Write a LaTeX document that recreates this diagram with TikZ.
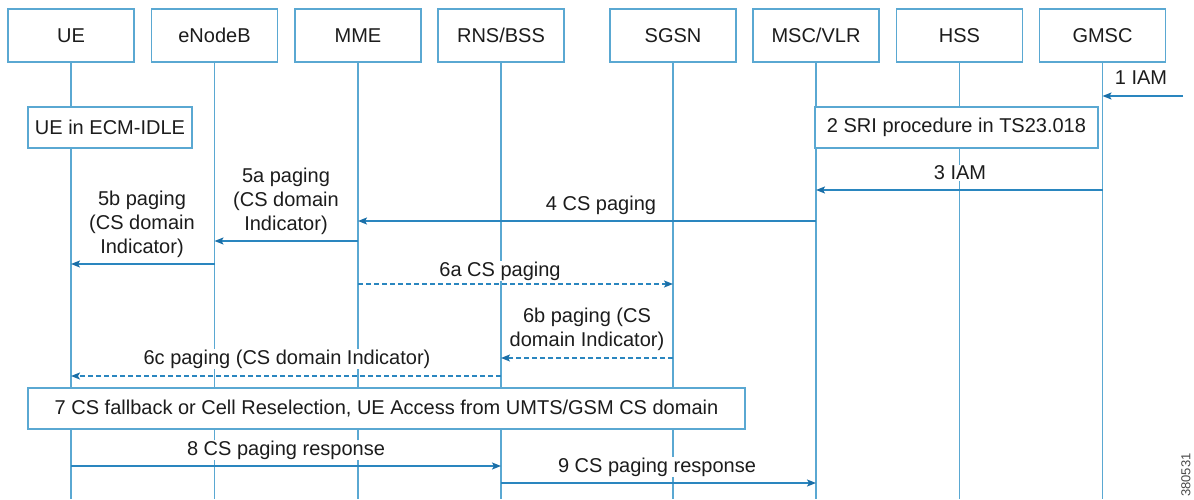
\documentclass[tikz,border=0pt]{standalone}
\usepackage{fontspec}
\setmainfont{Liberation Sans}
\usetikzlibrary{arrows.meta}
\definecolor{lifec}{HTML}{5AA8D2}
\definecolor{msgc}{HTML}{2A86BF}
\definecolor{tipc}{HTML}{1A6FA8}
\definecolor{txtc}{HTML}{1C1C1C}
\tikzset{
  hdr/.style={draw=lifec, line width=1.3pt, fill=white, minimum width=126pt, minimum height=53pt, inner sep=0pt, text=txtc, font=\fontsize{20}{24}\selectfont},
  procbox/.style={draw=lifec, line width=1.3pt, fill=white, minimum height=41pt, inner sep=0pt, text=txtc, font=\fontsize{20}{24}\selectfont},
  life/.style={draw=lifec, line width=1.3pt},
  msg/.style={draw=msgc, line width=1.5pt, -{Stealth[length=9pt,width=7pt,inset=2pt,color=tipc]}},
  dmsg/.style={msg, dash pattern=on 5pt off 3pt},
  lbl/.style={fill=white, inner sep=1pt, text=txtc, align=center, font=\fontsize{20}{24}\selectfont},
  tag/.style={text=txtc!80, inner sep=0pt, rotate=90, font=\fontsize{13}{15}\selectfont}
}
\begin{document}
\begin{tikzpicture}[x=1pt, y=-1pt]
\useasboundingbox (0,0) rectangle (1194,499);
% headers
\node[hdr] (ue)   at (71,35.5)    {UE};
\node[hdr] (enb)  at (214.5,35.5) {eNodeB};
\node[hdr] (mme)  at (358,35.5)   {MME};
\node[hdr] (rns)  at (501,35.5)   {RNS/BSS};
\node[hdr] (sgsn) at (673,35.5)   {SGSN};
\node[hdr] (msc)  at (816,35.5)   {MSC/VLR};
\node[hdr] (hss)  at (959.5,35.5) {HSS};
\node[hdr] (gmsc) at (1102.5,35.5){GMSC};
% lifeline ends
\coordinate (bot) at (0,499);
\foreach \n in {ue,enb,mme,rns,sgsn,msc,hss,gmsc}{
  \coordinate (\n-end) at (\n |- bot);
  \draw[life] (\n.south) -- (\n-end);
}
% process boxes
\node[procbox, minimum width=164pt] (idle) at (110,127.5) {UE in ECM-IDLE};
\node[procbox, minimum width=283pt] (sri) at (956.5,127.5) {2 SRI procedure in TS23.018};
\node[procbox, minimum width=717pt] (csfb) at (386.5,408.5) {7 CS fallback or Cell Reselection, UE Access from UMTS/GSM CS domain};
% labels
\node[lbl] (l1)  at (1141,78)  {1 IAM};
\node[lbl] (l3)  at (960,173)  {3 IAM};
\node[lbl] (l4)  at (601,205)  {4 CS paging};
\node[lbl] (l5a) at (286,201)  {5a paging\\(CS domain\\Indicator)};
\node[lbl] (l5b) at (142,224)  {5b paging\\(CS domain\\Indicator)};
\node[lbl] (l6a) at (500,271)  {6a CS paging};
\node[lbl] (l6b) at (587,329)  {6b paging (CS\\domain Indicator)};
\node[lbl] (l6c) at (287,359)  {6c paging (CS domain Indicator)};
\node[lbl] (l8)  at (286,450)  {8 CS paging response};
\node[lbl] (l9)  at (657,467)  {9 CS paging response};
\node[tag] (fig) at (1186,475) {380531};
% messages
\coordinate (in1) at (1183,96);
\draw[msg] (in1) -- (gmsc |- in1);
\coordinate (y3) at (0,190);
\draw[msg] (gmsc |- y3) -- (msc |- y3);
\coordinate (y4) at (0,221);
\draw[msg] (msc |- y4) -- (mme |- y4);
\coordinate (y5a) at (0,241);
\draw[msg] (mme |- y5a) -- (enb |- y5a);
\coordinate (y5b) at (0,264);
\draw[msg] (enb |- y5b) -- (ue |- y5b);
\coordinate (y6a) at (0,284);
\draw[dmsg] (mme |- y6a) -- (sgsn |- y6a);
\coordinate (y6b) at (0,358);
\draw[dmsg] (sgsn |- y6b) -- (rns |- y6b);
\coordinate (y6c) at (0,376);
\draw[dmsg] (rns |- y6c) -- (ue |- y6c);
\coordinate (y8) at (0,466);
\draw[msg] (ue |- y8) -- (rns |- y8);
\coordinate (y9) at (0,483);
\draw[msg] (rns |- y9) -- (msc |- y9);
\end{tikzpicture}
\end{document}
